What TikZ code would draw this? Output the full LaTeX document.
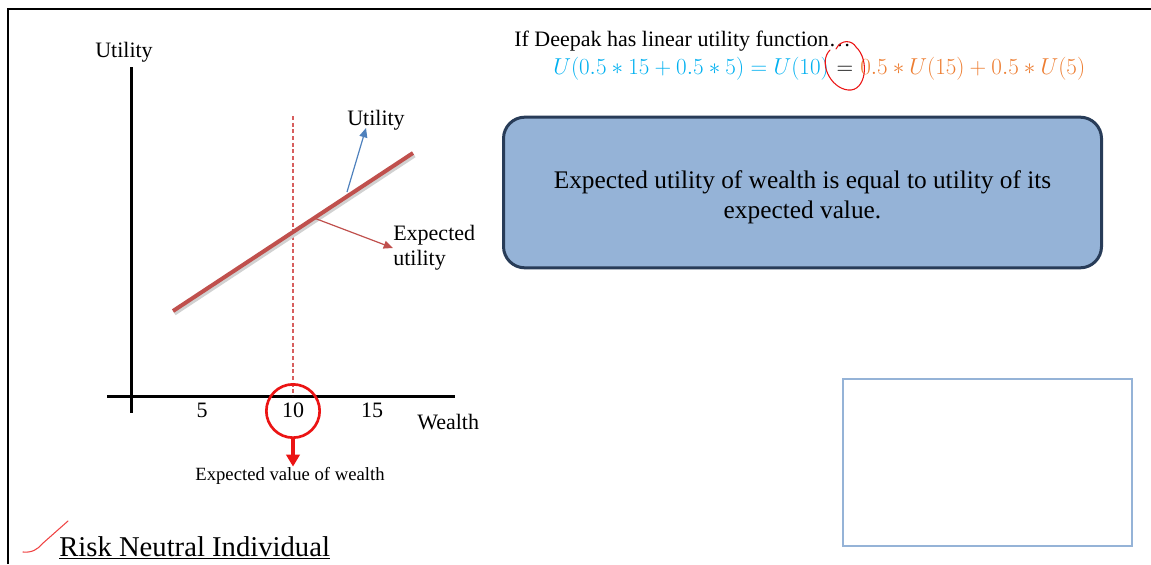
\documentclass[tikz,border=0pt]{standalone}
\usepackage{fontspec}
\setmainfont{Liberation Serif}
\usepackage{xcolor}
\usepackage{tikz}
\usetikzlibrary{arrows.meta,calc}
\definecolor{RedUtility}{RGB}{192,80,77}
\definecolor{BlueArrow}{RGB}{79,129,189}
\definecolor{BoxBlue}{RGB}{149,179,215}
\definecolor{BoxBorder}{RGB}{40,60,88}
\definecolor{CyanEq}{RGB}{0,176,240}
\definecolor{OrangeEq}{RGB}{237,125,49}
\definecolor{RedMark}{RGB}{235,20,20}
\definecolor{RedDash}{RGB}{215,95,95}

\begin{document}
\begin{tikzpicture}[x=0.75pt,y=-0.75pt,>=Latex,
    txt/.style={inner sep=0pt,font=\fontsize{16.5}{19}\selectfont}]
  \useasboundingbox (0,0) rectangle (1151,564);
  % marco de la diapositiva
  \draw[line width=1.5pt] (8,564)--(8,9)--(1151,9);
  % ejes
  \coordinate (yTop) at (131,67);
  \coordinate (yBot) at (131,413);
  \coordinate (xL) at (107,396);
  \coordinate (xR) at (455,396);
  \draw[line width=2.25pt] (yTop)--(yBot);
  \draw[line width=2.25pt] (xL)--(xR);
  \node[txt,anchor=base] (yLab) at (124,57) {Utility};
  \foreach \v/\x in {5/202,10/293,15/372} \node[txt,anchor=base] (t\v) at (\x,417) {\v};
  \node[txt,anchor=base west] (wLab) at (417,429) {Wealth};
  % valor esperado
  \draw[RedDash,line width=0.9pt,dash pattern=on 3pt off 2pt] (293,116)--(293,396);
  \node[draw=RedMark,line width=2pt,circle,minimum size=40pt,inner sep=0pt] (ring) at (293,411) {};
  \node[inner sep=0pt,font=\fontsize{14}{17}\selectfont,anchor=base] (evLab) at (290,480) {Expected value of wealth};
  \draw[RedMark,line width=2.5pt,-{Triangle[length=9pt,width=10pt]}] (ring.south)--(ring.south|-evLab.north);
  % recta de utilidad
  \coordinate (uA) at (173,311);
  \coordinate (uB) at (413,153);
  \draw[black!18,line width=3pt] ($(uA)+(1.5,2.5)$)--($(uB)+(1.5,2.5)$);
  \draw[RedUtility,line width=3pt] (uA)--(uB);
  \node[txt,anchor=base] (uLab) at (376,125) {Utility};
  \coordinate (uFoot) at (347,192);
  \coordinate (uTip) at (366,128);
  \draw[BlueArrow,line width=0.9pt,-{Triangle[length=7pt,width=6pt]}] (uFoot)--(uTip);
  \node[txt,anchor=west,align=left,font=\fontsize{16.5}{18.75}\selectfont] (euLab) at (393,248) {Expected\\utility};
  \coordinate (euFoot) at (314,218);
  \draw[RedUtility,line width=0.9pt,-{Triangle[length=7pt,width=6pt]}] (euFoot)--(euLab.west);
  % texto superior
  \node[inner sep=0pt,anchor=base west,font=\fontsize{16.5}{20}\selectfont] (intro) at (514,46) {If Deepak has linear utility function…};
  \node[inner sep=0pt,anchor=base east,text=CyanEq,font=\fontsize{17.5}{20}\selectfont] (eqL) at (829,74) {$U(0.5\ast 15+0.5\ast 5)=U(10)$};
  \node[inner sep=0pt,anchor=base,font=\fontsize{17.5}{20}\selectfont] (eqM) at (845,74) {$=$};
  \node[inner sep=0pt,anchor=base west,text=OrangeEq,font=\fontsize{17.5}{20}\selectfont] (eqR) at (860,74) {$0.5\ast U(15)+0.5\ast U(5)$};
  % marcas a mano
  \draw[RedMark,line width=0.8pt,line cap=round] (836,49) .. controls (841,39) and (852,40) .. (856,47)
    .. controls (870,60) and (866,92) .. (848,90) .. controls (830,88) and (818,62) .. (830,50);
  \draw[RedMark!80,line width=0.8pt,line cap=round] (23,552) .. controls (32,553) and (38,549) .. (42,544) -- (68,521);
  % cajas
  \node[draw=BoxBorder,fill=BoxBlue,line width=2.25pt,rounded corners=16pt,
    minimum width=448.5pt,minimum height=113pt] (msgBox) at (802.5,192.5) {};
  \node[inner sep=0pt,align=center,font=\fontsize{19}{22.5}\selectfont] (msgTxt)
    at ($(msgBox.center)+(0,5)$) {Expected utility of wealth is equal to utility of its\\expected value.};
  \node[draw=BoxBlue,line width=1.1pt,minimum width=216.75pt,minimum height=125.25pt,inner sep=0pt] (blankBox) at (987.5,462.5) {};
  % titulo
  \node[inner sep=0pt,anchor=base west,font=\fontsize{21.5}{26}\selectfont] (title) at (59,556) {\underline{Risk Neutral Individual}};
\end{tikzpicture}
\end{document}
